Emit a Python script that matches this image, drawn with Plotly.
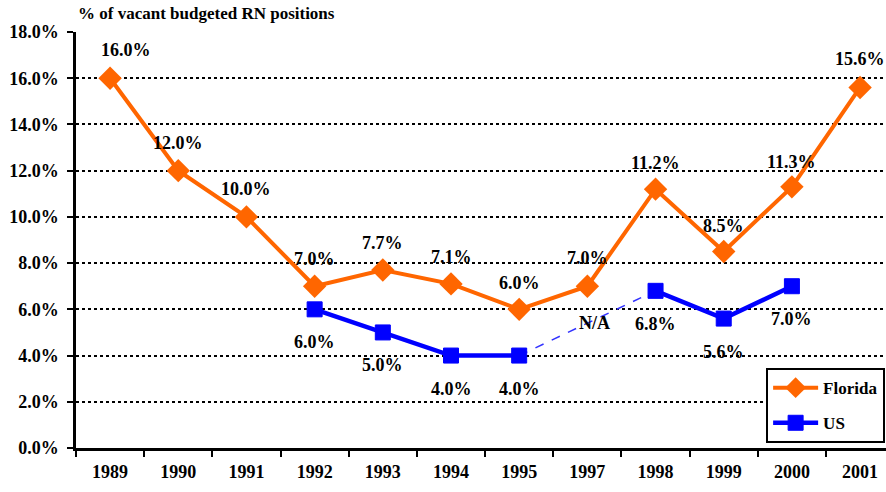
import plotly.graph_objects as go

years = ["1989", "1990", "1991", "1992", "1993", "1994", "1995", "1997", "1998", "1999", "2000", "2001"]
florida = [16.0, 12.0, 10.0, 7.0, 7.7, 7.1, 6.0, 7.0, 11.2, 8.5, 11.3, 15.6]
us = [None, None, None, 6.0, 5.0, 4.0, 4.0, None, 6.8, 5.6, 7.0, None]
na_year = "1997"
na_level = 5.4  # position of the "N/A" note on the dashed link
y_ticks = [0, 2, 4, 6, 8, 10, 12, 14, 16, 18]
y_tick_labels = ["%.1f%%" % v for v in y_ticks]

# label offsets (pixels) - styling only
fl_dx = [16, 0, 0, 0, 0, 0, 0, 0, 0, 0, 0, 0]
fl_dy = [28, 28, 28, 27, 27, 27, 26, 28, 26, 26, 25, 28]
us_dy = -33

FONT = "Liberation Serif, Times New Roman, serif"
ORANGE = "#FF6600"
BLUE = "#0000FF"

fig = go.Figure()

fig.add_trace(go.Scatter(
    x=years, y=florida, mode="lines+markers", name="Florida",
    line=dict(color=ORANGE, width=4),
    marker=dict(symbol="diamond", size=18, color=ORANGE),
    legendgroup="a",
))

fig.add_trace(go.Scatter(
    x=[years[6], years[8]], y=[us[6], us[8]], mode="lines",
    line=dict(color="#3333FF", width=1.5, dash="dash"),
    showlegend=False, hoverinfo="skip",
))

fig.add_trace(go.Scatter(
    x=years, y=us, mode="lines+markers", name="US",
    line=dict(color=BLUE, width=4.5),
    marker=dict(symbol="square", size=15, color=BLUE,
                line=dict(color=BLUE, width=1)),
    connectgaps=False,
    legendgroup="b",
))

label_font = dict(family=FONT, size=18, color="black", weight="bold")
annotations = []
for i, v in enumerate(florida):
    annotations.append(dict(
        x=i, y=v, text="%.1f%%" % v, showarrow=False,
        xshift=fl_dx[i], yshift=fl_dy[i], font=label_font,
    ))
for i, v in enumerate(us):
    if v is None:
        continue
    annotations.append(dict(
        x=i, y=v, text="%.1f%%" % v, showarrow=False,
        yshift=us_dy, font=label_font,
    ))
annotations.append(dict(
    x=years.index(na_year), y=na_level, text="N/A", showarrow=False, xshift=7,
    font=label_font,
))
annotations.append(dict(
    xref="paper", yref="paper", x=0, y=1, xanchor="left", yanchor="bottom",
    yshift=7, text="% of vacant budgeted RN positions", showarrow=False,
    font=dict(family=FONT, size=17, color="black", weight="bold"),
))

fig.update_layout(
    width=886, height=492,
    margin=dict(l=76, r=0, t=32, b=44),
    plot_bgcolor="white", paper_bgcolor="white",
    font=dict(family=FONT, size=18, color="black"),
    annotations=annotations,
    showlegend=True,
    legend=dict(
        x=0.852, y=0.192, xanchor="left", yanchor="top",
        bordercolor="black", borderwidth=2, bgcolor="white",
        font=dict(family=FONT, size=17, color="black", weight="bold"),
        traceorder="grouped", tracegroupgap=10,
        itemwidth=45,
    ),
    xaxis=dict(
        type="category", categoryorder="array", categoryarray=years,
        range=[-0.5, 11.38],
        showline=True, linecolor="black", linewidth=2.5,
        ticks="outside", tickson="boundaries", ticklen=6, tickwidth=2,
        tickcolor="black", showgrid=False,
        tickfont=dict(family=FONT, size=18, color="black", weight="bold"),
        ticklabelstandoff=6,
    ),
    yaxis=dict(
        range=[0, 18], tickvals=y_ticks, ticktext=y_tick_labels,
        showline=True, linecolor="black", linewidth=2.5,
        ticks="outside", ticklen=6, tickwidth=2, tickcolor="black",
        showgrid=True, gridcolor="black", gridwidth=1.5, griddash="dot",
        zeroline=False,
        tickfont=dict(family=FONT, size=18, color="black", weight="bold"),
        ticklabelstandoff=5,
    ),
)

fig.write_html("out.html", config={"displayModeBar": False},
               post_script="document.body.style.margin='0';")
